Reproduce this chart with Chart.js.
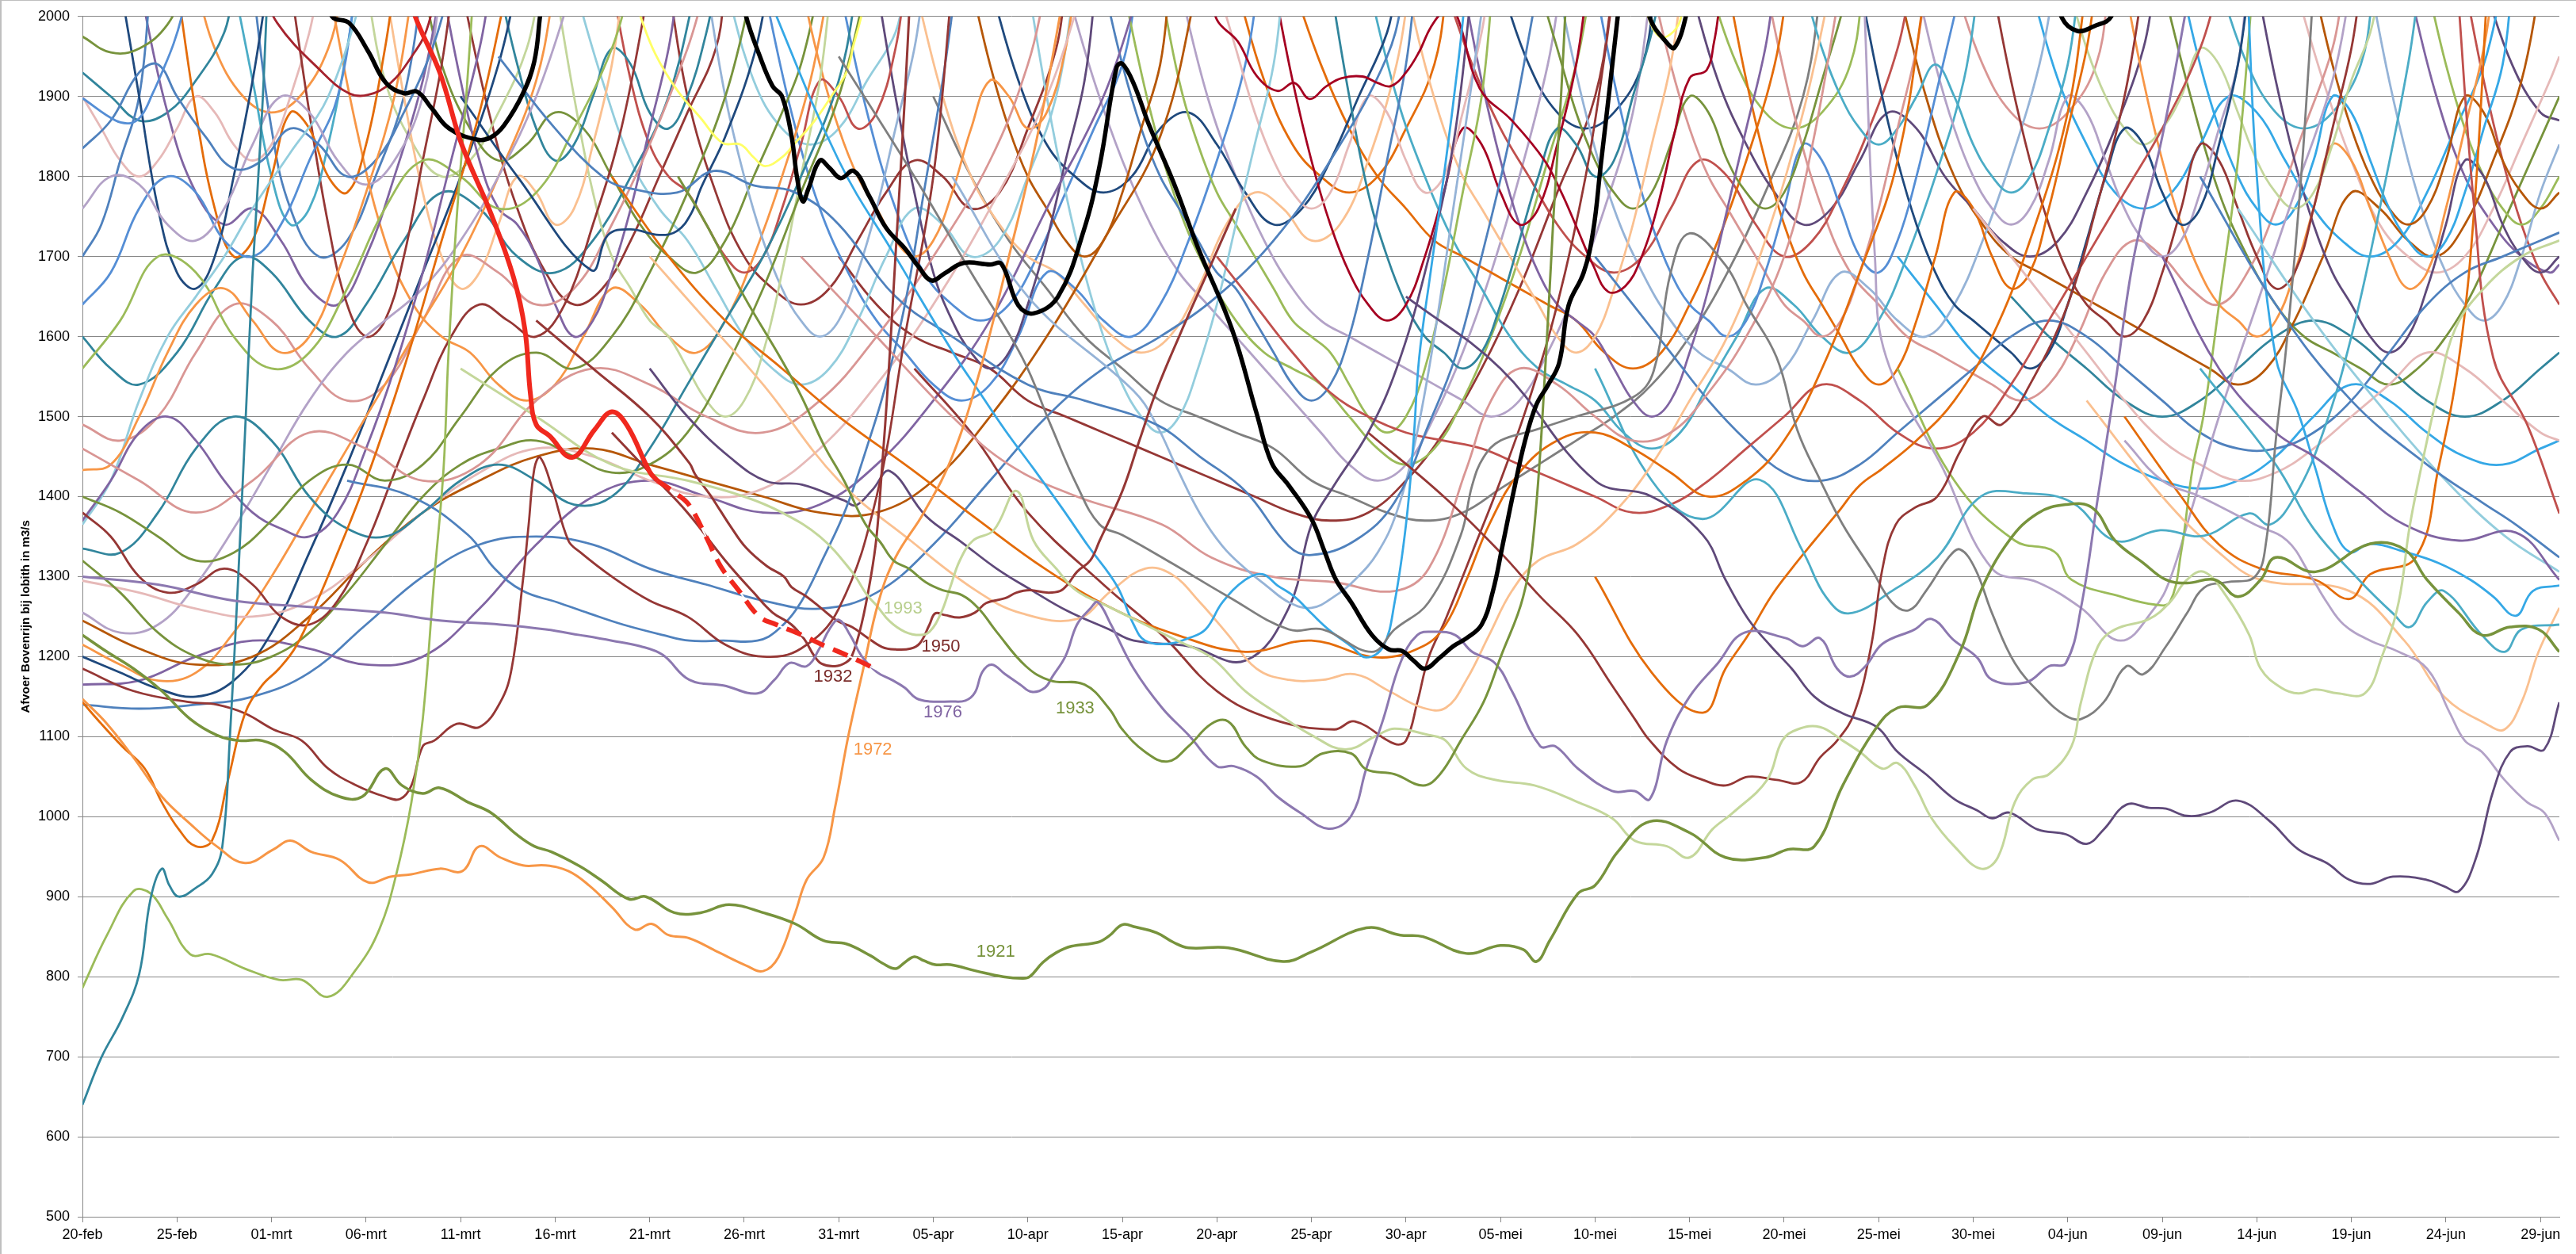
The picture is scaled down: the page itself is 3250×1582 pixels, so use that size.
<!DOCTYPE html>
<html>
<head>
<meta charset="utf-8">
<script src="https://cdn.jsdelivr.net/npm/chart.js@4.4.1/dist/chart.umd.min.js"></script>
<style>
  html, body { margin: 0; padding: 0; background: #fff; }
  canvas { display: block; }
</style>
</head>
<body>
<canvas id="afvoerChart" width="3250" height="1582"></canvas>
<script>
// x = dagnummer vanaf 20-feb (schrikkeljaar), y = afvoer in m3/s
const tickLabels = ["20-feb", "25-feb", "01-mrt", "06-mrt", "11-mrt", "16-mrt", "21-mrt", "26-mrt", "31-mrt",
  "05-apr", "10-apr", "15-apr", "20-apr", "25-apr", "30-apr", "05-mei", "10-mei", "15-mei", "20-mei",
  "25-mei", "30-mei", "04-jun", "09-jun", "14-jun", "19-jun", "24-jun", "29-jun"];

const roodGemeten = [[17.2,2040],[17.6,2000],[18.9,1930],[19.9,1851],[20.4,1820],[21.6,1754],[22.8,1674],[23.4,1609],
  [23.7,1527],[24.0,1490],[24.7,1476],[25.9,1449],[27.1,1484],[28.0,1506],[28.8,1489],[30.0,1431],[30.4,1420]];
const roodVerwacht = [[30.4,1420],[31.5,1402],[32.1,1389],[33.0,1349],[33.75,1313],[34.7,1283],[35.8,1250],
  [36.7,1240],[38.05,1227],[39.2,1214],[40.5,1201],[42.0,1184]];

const zwart = [[12.8,2040],[13.2,2000],[14.1,1992],[15.1,1957],[16.05,1917],[17.0,1904],[17.7,1906],[18.45,1886],
  [19.4,1860],[20.9,1846],[21.6,1849],[22.3,1864],[23.3,1904],[23.9,1944],[24.2,2000],[24.4,2040],[24.5,null],
  [34.8,2040],[35.1,2000],[35.8,1952],[36.5,1913],[37.0,1900],[37.5,1851],[37.8,1798],[38.1,1769],[38.4,1785],
  [39.0,1820],[39.5,1811],[40.1,1798],[40.8,1807],[41.6,1776],[42.5,1736],[43.5,1710],[44.2,1688],[44.9,1670],
  [45.6,1679],[46.6,1692],[48.0,1690],[48.6,1691],[49.5,1639],[50.3,1629],[51.6,1650],[52.95,1732],[53.8,1814],
  [54.7,1937],[55.0,1941],[55.6,1916],[56.4,1865],[57.7,1793],[59.0,1711],[60.8,1609],[62.1,1504],[62.9,1442],
  [63.8,1414],[65.0,1372],[65.7,1331],[66.3,1296],[67.1,1268],[68.2,1227],[69.1,1209],[69.8,1207],[70.4,1195],
  [71.0,1185],[71.8,1199],[72.5,1213],[73.2,1223],[74.0,1240],[74.6,1282],[75.1,1338],[75.7,1407],[76.3,1470],
  [76.9,1515],[77.5,1539],[78.1,1567],[78.6,1639],[79.4,1680],[79.9,1732],[80.3,1814],[80.8,1916],[81.2,2000],
  [81.4,2040],[81.5,null],[82.7,2040],[82.9,1998],[83.8,1967],[84.2,1961],[84.8,2000],[85.0,2040],[85.1,null],
  [104.3,2040],[104.7,1998],[105.5,1982],[106.4,1988],[107.3,2000],[107.6,2040]];

const jaar1921 = [[0,1227],[1.3,1206],[2.7,1185],[4.2,1157],[5.7,1122],[7.1,1102],[8.3,1095],[9.5,1095],[10.7,1081],
  [12.1,1046],[13.6,1025],[14.8,1025],[16.0,1060],[16.9,1039],[18.0,1029],[18.9,1036],[20.4,1018],[21.6,1005],
  [23.0,977],[23.9,963],[24.8,956],[26.3,938],[27.4,921],[28.9,897],[29.8,900],[31.3,880],[32.7,880],[34.2,890],
  [36.0,880],[37.7,866],[39.2,845],[40.4,841],[41.7,826],[42.3,817],[43.0,810],[43.5,818],[44.0,825],[44.5,820],
  [45.1,815],[45.9,815],[47.3,807],[48.7,800],[49.7,798],[50.1,800],[50.8,818],[51.5,830],[52.3,838],[53.7,843],
  [54.3,851],[55.0,865],[55.7,862],[56.8,855],[57.7,843],[58.5,836],[60.6,836],[63.5,819],[65.0,831],[67.9,861],
  [69.7,852],[70.9,850],[73.2,829],[75.0,839],[76.2,834],[76.9,819],[77.6,845],[79.1,904],[80.0,914],[81.2,956],
  [82.9,994],[85.0,980],[86.9,949],[89.0,949],[90.2,959],[91.6,963],[93.1,1039],[94.9,1112],[96.0,1136],[97.6,1140],
  [99.3,1206],[100.4,1282],[101.9,1345],[103.4,1379],[104.9,1390],[106.3,1386],[107.5,1345],[109.0,1317],
  [110.2,1296],[111.3,1292],[112.8,1296],[114.0,1275],[115.2,1296],[116.0,1324],[118.1,1306],[121.0,1341],
  [122.8,1334],[124.0,1296],[125.7,1254],[126.9,1227],[128.4,1237],[129.9,1234],[131,1206]];

const jaar1933 = [[31.5,1800],[33,1740],[35,1650],[36.9,1574],[38.05,1524],[39.2,1465],[40.3,1419],[41.4,1366],
  [42.2,1343],[42.9,1320],[43.7,1310],[44.6,1293],[45.5,1283],[46.5,1277],[47.4,1260],[48.35,1231],[49.9,1188],
  [51.2,1170],[53.0,1165],[54.3,1135],[55.0,1109],[56.2,1081],[57.4,1069],[58.5,1088],[59.7,1116],[60.6,1119],
  [61.5,1088],[62.4,1070],[64.4,1063],[65.6,1079],[67.1,1079],[67.9,1059],[69.4,1053],[70.9,1039],[71.8,1053],
  [72.9,1095],[74.1,1143],[75.0,1199],[76.2,1275],[76.8,1365],[77.4,1574],[77.8,1750],[78.2,1900],[78.5,2040]];

const jaar1976 = [[0,1300],[4,1290],[8,1270],[12,1262],[16,1255],[19,1245],[22.1,1240],[24.5,1234],[26.3,1227],
  [28.0,1220],[29.5,1213],[30.7,1202],[32.1,1171],[33.9,1164],[35.7,1154],[36.6,1171],[37.4,1192],[38.3,1188],
  [39.0,1211],[39.5,1234],[40.0,1246],[40.6,1227],[41.2,1201],[42.0,1181],[42.8,1171],[43.5,1161],[44.1,1148],
  [44.8,1144],[45.9,1144],[46.7,1145],[47.2,1155],[47.6,1181],[48.1,1190],[48.8,1178],[49.6,1165],[50.2,1156],
  [50.9,1161],[51.3,1175],[52.0,1201],[52.6,1240],[53.3,1260],[53.7,1268],[54.4,1240],[55.6,1185],[57.1,1136],
  [58.5,1102],[60.0,1063],[60.9,1063],[62.1,1050],[63.2,1025],[64.4,1005],[65.9,985],[67.1,1001],[67.9,1060],
  [68.8,1122],[69.7,1192],[70.6,1227],[71.5,1231],[72.6,1227],[73.5,1206],[74.7,1192],[75.6,1157],[77.1,1088],
  [77.9,1088],[79.1,1060],[80.9,1032],[82.1,1032],[82.9,1022],[83.8,1095],[85.0,1150],[86.5,1192],[87.9,1230],
  [90.1,1223],[91.0,1213],[91.9,1223],[92.8,1185],[93.5,1175],[94.3,1188],[95.2,1216],[96.9,1234],[97.8,1247],
  [99.0,1220],[100.2,1199],[101.0,1171],[102.8,1168],[104.0,1188],[104.9,1192],[105.7,1261],[106.6,1400],
  [107.5,1539],[108.5,1700],[110,1850],[111.5,2040]];

const jaar1972 = [[0,1147],[1.3,1116],[2.7,1074],[4.2,1025],[5.7,991],[7.1,963],[8.6,942],[10.1,959],[11.0,970],
  [12.1,956],[13.6,946],[15.1,918],[16.3,925],[17.4,928],[18.9,935],[20.1,932],[21.0,963],[22.1,949],[23.3,939],
  [24.5,939],[25.7,932],[26.8,914],[28.0,887],[29.2,859],[30.1,866],[31.0,852],[32.1,848],[33.6,831],[35.1,814],
  [36.0,807],[36.8,824],[37.7,880],[38.3,921],[39.2,949],[39.8,1011],[40.5,1100],[41.3,1185],[42.1,1268],
  [43.0,1324],[44.5,1380],[46,1450],[47.5,1560],[49,1700],[50.5,1850],[52,2040]];

const jaar1993 = [[20,1560],[24,1500],[28,1440],[32,1420],[35,1400],[37,1380],[39,1350],[40.7,1306],[41.5,1277],
  [42.0,1264],[42.7,1244],[43.5,1231],[44.3,1227],[44.8,1231],[45.4,1254],[45.9,1287],[46.4,1320],[47.1,1345],
  [48.2,1358],[49.4,1407],[50.3,1345],[51.5,1310],[52.6,1282],[54.4,1261],[56.2,1240],[57.9,1220],[59.7,1199],
  [61.5,1157],[63.2,1129],[65.0,1102],[66.8,1084],[68.5,1102],[69.4,1110],[71.2,1102],[72.1,1095],[73.2,1060],
  [74.7,1046],[76.8,1039],[79.1,1018],[80.9,998],[82.1,970],[83.8,963],[85.0,949],[86.2,984],[87.3,1005],
  [89.1,1046],[89.9,1095],[90.7,1109],[91.9,1112],[93.1,1095],[94.0,1081],[95.2,1060],[96.0,1067],[96.9,1039],
  [97.8,998],[99.0,963],[100.4,935],[101.3,949],[102.2,1018],[103.1,1046],[104.0,1053],[105.2,1088],[105.7,1143],
  [106.6,1213],[107.5,1234],[109.3,1247],[110.4,1268],[111.3,1296],[112.2,1306],[113.4,1275],[114.6,1227],
  [115.2,1185],[116.3,1161],[117.2,1154],[118.1,1159],[119.3,1154],[120.7,1154],[121.6,1199],[122.5,1268],
  [123.1,1365],[124.0,1470],[124.6,1532],[125.5,1610],[127,1660],[129,1700],[131,1720]];

const jaar1950 = [[24,1620],[27,1560],[30,1500],[32.1,1442],[32.4,1428],[33.2,1402],[33.75,1382],[34.3,1362],
  [35.1,1336],[36.2,1313],[37.1,1300],[37.5,1287],[38.3,1275],[39.1,1260],[39.9,1245],[40.7,1237],[41.5,1224],
  [42.3,1212],[43.0,1209],[43.8,1210],[44.3,1217],[44.8,1240],[45.1,1254],[45.6,1252],[46.4,1249],[47.2,1255],
  [47.8,1267],[48.8,1273],[49.4,1280],[50.1,1283],[51.0,1280],[51.7,1282],[52.1,1290],[52.6,1306],[53.3,1320],
  [53.8,1345],[55.0,1407],[55.9,1470],[56.8,1532],[58,1600],[59.5,1680],[61,1760]];

const jaar1932 = [[28,1480],[30,1430],[32,1380],[34,1320],[35.5,1280],[36.5,1255],[37.5,1240],[38.2,1221],
  [38.7,1201],[39.1,1191],[39.8,1188],[40.4,1193],[40.7,1201],[41.2,1240],[41.7,1300],[42.0,1350],[42.3,1440],
  [42.6,1540],[43.0,1700],[43.5,1900],[43.8,2040]];

const overigeJaren = [
  [[70,1650],[75,1560],[80,1420],[83,1400],[85.7,1352],[86.9,1296],[88.1,1247],[89.3,1213],[90.4,1185],[91.6,1150],
   [93.1,1129],[94.9,1112],[96.0,1081],[97.5,1053],[99.0,1022],[100.2,1008],[101.0,998],[101.9,1005],[103.4,984],
   [104.9,978],[106.0,966],[106.9,984],[108.1,1015],[109.3,1011],[110.2,1010],[111.3,1001],[112.5,1005],[114.0,1020],
   [115.7,994],[117.2,959],[118.7,942],[119.9,921],[121.0,916],[122.2,925],[124.0,921],[124.9,913],[125.7,907],
   [126.6,949],[127.5,1032],[128.4,1081],[129.3,1088],[130.2,1084],[131,1143]],
  [[68,1480],[72,1400],[75,1330],[77.1,1275],[79.1,1227],[80.9,1164],[82.1,1122],[82.9,1095],[84.4,1060],[85.7,1046],
   [86.9,1039],[88.1,1050],[89.6,1046],[90.9,1043],[91.9,1074],[92.8,1095],[93.7,1129],[94.6,1213],[95.2,1310],
   [95.9,1365],[96.9,1386],[98.1,1400],[99.3,1456],[100.5,1500],[101.5,1490],[103,1540],[105,1640],[106.5,1760],[108,1900],[109,2040]],
  [[40,1950],[44,1800],[47,1680],[49.7,1574],[51.2,1490],[52.6,1414],[53.8,1365],[55.0,1352],[57.6,1317],[60.6,1275],
   [63.8,1234],[65.6,1234],[68.2,1206],[69.4,1234],[71.2,1268],[72.9,1352],[73.5,1414],[74.1,1449],[75.0,1470],
   [76.8,1483],[79,1500],[82.0,1524],[83.1,1557],[84,1680],[85.0,1729],[86.9,1689],[88.0,1640],[89.6,1574],
   [90.7,1483],[91.9,1421],[93.1,1365],[94.6,1310],[95.7,1268],[96.6,1258],[97.5,1282],[98.7,1324],[99.3,1334],
   [100.1,1310],[101.0,1254],[102.2,1192],[103.7,1150],[104.9,1126],[105.7,1122],[106.9,1143],[108.1,1188],
   [109.0,1178],[110.2,1213],[111.3,1254],[112.2,1286],[113.4,1293],[114.9,1300],[115.5,1345],[116.0,1470],
   [116.5,1574],[117,1700],[117.5,1850],[118,2040]],
  [[36,2040],[40,1820],[43,1700],[46.2,1574],[47.4,1532],[48.8,1483],[50.3,1435],[51.8,1386],[53.2,1338],[54.7,1289],
   [55.6,1240],[56.2,1220],[57.4,1216],[58.5,1223],[59.4,1234],[60.3,1268],[61.5,1296],[62.4,1303],[63.2,1289],
   [64.1,1275],[65.0,1254],[65.9,1234],[67.1,1213],[67.9,1199],[68.8,1213],[69.4,1268],[70.0,1365],[70.4,1470],
   [70.7,1574],[71.3,1680],[72.0,1800],[72.8,1950],[73.2,2040]],
  [[0,640],[1,699],[2.1,748],[3.0,803],[3.6,897],[4.2,935],[4.6,914],[5.1,900],[6.0,911],[6.85,928],[7.4,963],
   [7.8,1100],[8.2,1280],[8.6,1480],[9.0,1680],[9.5,1880],[9.8,2040]],
  [[0,786],[1.3,852],[2.7,907],[3.6,904],[4.5,873],[5.7,828],[6.8,828],[8.6,810],[10.4,796],[11.6,796],[13.0,775],
   [14.5,810],[15.7,859],[16.6,928],[17.4,1018],[18.0,1122],[18.6,1296],[19.1,1435],[19.35,1574],[19.8,1750],
   [20.3,1900],[20.7,2040]],
  [[0,1143],[1.0,1116],[2.1,1088],[3.3,1060],[4.2,1018],[5.1,984],[6.0,963],[6.85,970],[7.7,1046],[8.6,1129],
   [9.5,1164],[10.4,1185],[11.3,1213],[12.4,1268],[13.5,1330],[15,1420],[17,1560],[19,1720],[21,1880],[22.5,2040]],
  [[0,1185],[2.7,1157],[5.7,1143],[7.1,1140],[8.6,1129],[10.1,1109],[11.6,1095],[13.0,1060],[14.5,1039],[16.0,1025],
   [16.8,1022],[17.4,1039],[18.0,1088],[18.6,1095],[19.8,1116],[21.0,1112],[22.1,1143],[22.7,1185],[23.3,1296],
   [23.6,1365],[23.9,1435],[24.2,1449],[24.8,1414],[25.7,1345],[26.3,1331],[28,1300],[30,1270],[32,1250],[34,1215],
   [36,1200],[38,1210],[40,1260],[42,1400],[43.5,1600],[45,1800],[46,2040]],
  [[59.6,2040],[60.0,1996],[61.1,1969],[62.1,1926],[63.2,1907],[64.1,1917],[64.9,1897],[65.8,1913],[66.6,1923],
   [67.7,1925],[68.5,1917],[69.2,1913],[70.0,1930],[70.7,1956],[71.3,1986],[72.0,2006],[72.6,2006],[73.9,1910],
   [75.6,1870],[77.3,1821],[78.2,1781],[79.0,1738],[79.9,1689],[80.7,1656],[81.6,1663],[82.4,1696],[83.3,1762],
   [84.2,1854],[85.0,1923],[85.9,1933],[86.3,1969],[86.5,1999],[86.7,2040]],
  [[29,2040],[29.5,2001],[30.3,1953],[31.45,1908],[32.7,1873],[33.85,1842],[34.8,1840],[35.5,1824],[36.1,1813],
   [37.0,1824],[37.7,1842],[38.7,1869],[39.6,1900],[40.4,1930],[40.8,1966],[41.2,2001],[41.5,2040],[41.6,null],
   [82.3,2040],[82.8,2000],[83.4,1975],[84.0,1978],[84.5,1995],[84.8,2040]],
  [[9.5,2040],[10.3,1992],[12.7,1930],[14.1,1904],[15.1,1902],[16.3,1917],[17.5,1953],[18.2,1983],[18.8,2040]],
  [[0,1898],[1.75,1870],[2.6,1867],[3.15,1877],[3.7,1903],[4.26,1933],[4.82,1966],[5.24,1999],[5.6,2040]],
  [[22,1950],[25,1860],[27.6,1798],[29.0,1785],[31.45,1780],[33.4,1807],[35.5,1789],[37.7,1780],[40,1740],[43,1650],
   [46,1600],[50,1540],[53,1520],[56.8,1490],[59.1,1450],[61.5,1407],[63.8,1338],[65.0,1327],[67.3,1345],[69.4,1393],
   [71.2,1490],[72.6,1574],[74,1700],[75.5,1850],[77,2040]],
  [[20,1900],[23,1800],[26.9,1683],[27.8,1727],[29.0,1734],[30.5,1727],[31.45,1732],[32.2,1754],[32.7,1785],
   [34,1850],[35.5,1950],[36.3,2040]],
  [[46,1800],[50,1650],[55.6,1532],[56.8,1490],[57.9,1435],[59.1,1379],[60.3,1338],[61.5,1310],[62.6,1289],
   [63.8,1268],[65.0,1261],[66.2,1275],[67.3,1296],[68.5,1330],[69.5,1380],[70.5,1470],[71.5,1600],[72.5,1760],[73.5,1920],[74.2,2040]],
  [[38,1700],[42,1600],[46,1500],[49,1440],[52.6,1400],[57.1,1365],[59.7,1324],[62.9,1300],[66.2,1293],[69.4,1282],
   [71.2,1310],[73.2,1435],[74.5,1520],[76,1560],[78,1540],[80,1500],[82,1470],[84,1480],[86,1530],[88,1600],[90,1700],[91.5,1840],[93,2040]],
  [[28,1800],[31,1700],[34,1620],[37,1560],[40,1500],[43.8,1435],[47.3,1372],[50.9,1310],[54.4,1261],[57.9,1227],
   [61.5,1206],[65.0,1220],[68.5,1199],[70.9,1213],[72.1,1240],[73.2,1296],[74.4,1365],[76,1430],[78,1470],[80,1480],
   [82,1460],[84,1430],[86,1400],[88,1420],[90,1470],[92,1560],[94,1680],[96,1820],[97.5,2040]],
  [[30,1700],[33,1620],[36,1540],[40,1420],[43.8,1345],[47.3,1282],[49.7,1254],[52.6,1247],[54.4,1282],[56.2,1310],
   [57.6,1303],[59.1,1268],[60.6,1227],[62.1,1185],[63.8,1171],[65.6,1171],[67.3,1178],[69.1,1157],[70.9,1136],
   [72.1,1136],[73.2,1171],[74.4,1227],[75.6,1282],[77,1320],[79,1340],[81,1380],[83,1440],[85,1520],[87,1600],[89,1720],[91,1880],[92.5,2040]],
  [[14,1420],[17.4,1400],[20.4,1352],[21.8,1310],[23.3,1282],[25.1,1268],[26.8,1254],[28.6,1240],[30.7,1227],
   [32.1,1220],[33.9,1220],[35.7,1220],[36.8,1234],[38.0,1268],[39.2,1324],[40.4,1386],[41.6,1470],[42.4,1532],
   [43.5,1640],[44.5,1780],[45.5,1920],[46.2,2040]],
  [[30,1560],[32,1500],[34.3,1448],[36.2,1419],[38.05,1415],[40.3,1395],[40.9,1389],[41.8,1409],[42.7,1432],
   [44.6,1376],[46.5,1343],[48.35,1310],[50.2,1283],[52.1,1257],[54.3,1234],[55.6,1220],[58.5,1213],[61.5,1195],
   [63.8,1261],[65.0,1365],[66.2,1414],[68,1480],[69.5,1560],[71,1680],[72.5,1840],[73.5,2040]],
  [[44,1560],[47,1480],[50,1380],[54,1290],[57.1,1227],[60.0,1157],[62.9,1122],[66.2,1109],[67.3,1119],[69.4,1091],
   [70.0,1095],[70.6,1143],[71.2,1199],[72.1,1247],[73.5,1330],[75,1420],[76.5,1520],[78,1640],[79.5,1800],[80.5,1950],[81,2040]],
  [[108,1470],[110,1420],[112,1400],[114.9,1365],[116.6,1345],[117.8,1303],[118.7,1268],[119.6,1240],[121.0,1220],
   [122.5,1206],[124.0,1185],[125.2,1130],[126.0,1095],[126.9,1081],[128.1,1046],[129.3,1018],[130.2,1005],[131.0,970]],
  [[110,1700],[113,1560],[116,1480],[118.1,1449],[120.4,1407],[122.8,1365],[125.7,1345],[128.7,1355],[131,1296]],
  [[112,1800],[116,1640],[120,1520],[124,1440],[126.9,1393],[128.7,1365],[131,1324]],
  [[114,1760],[118,1620],[122,1500],[125,1420],[128.1,1351],[131,1306]],
  [[114.5,2040],[115,1800],[116.0,1574],[117.2,1504],[118.1,1435],[119.0,1365],[119.9,1331],[121.0,1341],
   [122.8,1331],[124.6,1317],[126.3,1296],[127.5,1275],[128.7,1251],[129.6,1282],[131,1289]],
  [[112,1560],[116,1440],[118,1360],[120.4,1296],[122.2,1254],[123.1,1237],[124.0,1268],[124.9,1282],[126.9,1227],
   [128.1,1206],[129.0,1234],[131,1240]],
  [[125.6,2040],[126.5,1760],[127.5,1574],[129.3,1490],[131,1379]],
  [[80,1560],[83,1420],[85.7,1372],[88.7,1421],[91.0,1331],[92.2,1275],[93.4,1254],[95.7,1282],[98.1,1324],[100.4,1400],
   [102.8,1404],[105.2,1393],[107.5,1345],[109.9,1358],[112.2,1351],[114.6,1379],[115.7,1365],[117,1400],[118.5,1480],[120,1600],[121.5,1760],[123,1940],[123.6,2040]],
  [[80,1300],[83,1180],[85.7,1130],[86.9,1185],[88.1,1227],[89.3,1275],[90.4,1310],[91.6,1345],[92.8,1379],
   [94.0,1414],[95.2,1435],[97,1470],[99,1520],[101,1600],[103,1720],[105,1880],[106,2040]],
  [[108,1500],[111,1400],[113,1340],[115.2,1310],[118.1,1296],[119.9,1272],[121.0,1303],[123.4,1324],[124.6,1435],
   [125.7,1574],[126.5,1760],[127.2,2040]],
  [[106,1520],[110,1400],[113,1330],[115.2,1296],[119.9,1282],[122.8,1220],[124.9,1150],[127.2,1115],[128.1,1109],
   [129.0,1143],[129.9,1206],[131,1261]],
  [[96,1560],[99,1420],[102.2,1345],[104.3,1331],[105.2,1296],[107.8,1275],[109.6,1265],[110.4,1268],[111.0,1331],
   [111.6,1435],[112.2,1504],[113,1640],[114,1820],[114.8,2040]],
  [[94.2,2040],[94.8,1700],[95.4,1574],[98.4,1435],[101.0,1310],[103.4,1293],[105.7,1261],[107.8,1220],[109.6,1261],
   [110.4,1296],[111.5,1380],[113,1500],[115,1640],[117,1780],[119,1920],[120,2040]],
  [[60,1700],[62,1640],[64,1580],[66,1530],[68,1500],[70,1480],[72,1470],[74,1460],[76,1440],[78,1420],[80,1400],
   [82,1380],[84,1390],[86,1420],[88,1460],[90,1500],[92,1540],[94,1520],[96,1480],[98,1460],[100,1480],[102,1540],
   [104,1620],[106,1700],[108,1780],[110,1860],[112,1960],[113,2040]],
  [[80,1700],[82,1640],[84,1580],[86,1520],[88,1470],[90,1430],[92,1420],[94,1440],[96,1480],[98,1520],[100,1560],
   [102,1600],[104,1620],[106,1600],[108,1560],[110,1520],[112,1480],[114,1460],[116,1460],[118,1480],[120,1520],
   [122,1580],[124,1640],[126,1680],[128,1700],[130,1720],[131,1730]],
  [[100,1760],[102,1700],[104,1640],[106,1580],[108,1520],[110,1470],[112,1440],[114,1420],[116,1430],[118,1460],
   [120,1500],[122,1540],[124,1580],[126,1560],[128,1520],[130,1480],[131,1470]],
  // linkerdeel, onder
  [[0,1460],[3,1420],[6,1380],[9,1420],[12,1480],[15,1460],[18,1420],[21,1440],[24,1520],[27,1560],[30,1540],
   [33,1500],[36,1480],[39,1520],[42,1600],[45,1700],[48,1820],[50,1940],[51,2040]],
  [[0,1433],[1.5,1440],[3,1500],[4.5,1580],[6,1640],[7.5,1660],[9,1620],[10.5,1580],[12,1600],[13.5,1680],[15,1780],[16.5,1900],[17.5,2040]],
  [[0,1400],[2,1380],[4,1350],[6,1320],[8,1330],[10,1370],[12,1420],[14,1440],[16,1420],[18,1440],[20,1500],
   [22,1560],[24,1580],[26,1560],[28,1600],[30,1680],[32,1780],[34,1900],[35.5,2040]],
  [[0,1380],[1.5,1350],[3,1300],[4.5,1280],[6,1290],[7.5,1310],[9,1290],[10.5,1250],[12,1240],[13.5,1270],[15,1340],
   [16.5,1430],[18,1520],[19.5,1600],[21,1640],[22.5,1620],[24,1600],[25.5,1640],[27,1740],[28.5,1860],[30,2040]],
  [[0,1370],[1.5,1420],[3,1480],[4.5,1500],[6,1470],[7.5,1420],[9,1380],[10.5,1360],[12,1350],[13.5,1380],[15,1460],
   [16.5,1560],[18,1680],[19.5,1820],[21,1960],[21.6,2040]],
  [[0,1365],[1.5,1420],[3,1520],[4.5,1600],[6,1650],[7.5,1700],[9,1760],[11,1830],[13,1900],[15,2040]],
  [[0,1335],[2,1330],[4,1380],[6,1460],[8,1500],[10,1470],[12,1400],[14,1360],[16,1350],[18,1380],[20,1420],
   [22,1440],[24,1420],[26,1390],[28,1400],[30,1460],[32,1540],[34,1620],[36,1700],[38,1800],[40,1920],[41,2040]],
  [[0,1320],[2,1280],[4,1230],[6,1200],[8,1190],[10,1200],[12,1230],[14,1280],[16,1340],[18,1400],[20,1440],
   [22,1460],[24,1470],[26,1450],[28,1430],[30,1440],[32,1480],[34,1560],[36,1660],[38,1780],[40,1900],[41.5,2040]],
  [[0,1295],[3,1280],[6,1260],[9,1250],[12,1270],[15,1320],[18,1380],[21,1430],[24,1460],[27,1450],[30,1420],
   [33,1400],[36,1410],[39,1460],[42,1540],[45,1640],[48,1760],[51,1900],[53,2040]],
  [[0,1255],[2,1230],[4,1240],[6,1290],[8,1360],[10,1440],[12,1520],[14,1580],[16,1620],[18,1660],[20,1720],[22,1800],[24,1900],[26,2040]],
  [[0,1245],[3,1210],[6,1190],[9,1200],[12,1250],[15,1320],[18,1380],[21,1420],[24,1450],[27,1460],[30,1440],
   [33,1420],[36,1400],[39,1380],[42,1380],[45,1420],[48,1500],[51,1600],[54,1720],[57,1850],[59,2040]],
  [[0,1215],[2,1190],[4,1170],[6,1180],[8,1230],[10,1300],[12,1380],[14,1460],[16,1540],[18,1620],[20,1700],[22,1800],[24,1920],[25,2040]],
  [[0,1200],[2,1180],[4,1160],[6,1150],[8,1170],[10,1230],[12,1330],[14,1440],[16,1560],[18,1680],[20,1800],[22,1940],[23,2040]],
  [[0,1165],[3,1170],[6,1200],[9,1220],[12,1210],[15,1190],[18,1200],[21,1260],[24,1340],[27,1400],[30,1420],
   [33,1400],[36,1380],[39,1390],[42,1440],[45,1520],[48,1620],[51,1760],[54,1900],[56,2040]],
  [[0,1140],[3,1135],[6,1140],[9,1150],[12,1180],[15,1240],[18,1300],[21,1340],[24,1350],[27,1340],[30,1310],
   [33,1290],[36,1270],[39,1260],[42,1280],[45,1340],[48,1420],[51,1500],[54,1560],[57,1600],[60,1650],[63,1720],[66,1820],[69,1950],[70,2040]],
  // dichte bundel boven (geschat)
  [[0,1975],[1.5,1955],[3,1960],[4.5,1990],[5.5,2040]],
  [[0,1835],[1.5,1870],[3,1930],[4,1940],[5,1900],[6.5,1850],[8,1810],[9.5,1820],[11,1860],[12.5,1840],[14,1800],[15.5,1820],[17,1880],[18.5,1960],[19.5,2040]],
  [[0,1760],[1.5,1800],[3,1790],[4.5,1740],[6,1720],[7.5,1760],[9,1840],[10.5,1900],[12,1880],[13.5,1820],[15,1790],[16.5,1820],[18,1900],[19,2040]],
  [[0,1640],[1.5,1680],[3,1760],[4.5,1800],[6,1780],[7.5,1720],[9,1700],[10.5,1740],[12,1820],[13.5,1900],[14.5,2040]],
  [[0,1560],[2,1620],[4,1700],[6,1680],[8,1600],[10,1560],[12,1580],[14,1660],[16,1760],[18,1820],[20,1800],[22,1760],[24,1780],[26,1860],[28,1960],[29,2040]],
  [[0,1490],[2,1470],[4,1500],[6,1580],[8,1640],[10,1620],[12,1560],[14,1520],[16,1540],[18,1620],[20,1700],[22,1680],[24,1640],[26,1660],[28,1740],[30,1840],[32,1960],[33,2040]],
  [[2,2040],[3,1900],[4,1760],[5,1680],[6,1660],[7,1700],[8,1800],[9,1920],[9.8,2040]],
  [[5,2040],[6,1880],[7,1760],[8,1700],[9,1720],[10,1800],[11,1880],[12,1860],[13,1800],[14,1780],[15,1840],[16,1960],[16.5,2040]],
  [[8,2040],[9,1920],[10,1800],[11,1740],[12,1760],[13,1840],[14,1960],[14.5,2040]],
  [[11,2040],[12,1880],[13,1740],[14,1640],[15,1600],[16,1620],[17,1700],[18,1820],[19,1940],[19.6,2040]],
  [[16,2040],[17,1900],[18,1780],[19,1700],[20,1660],[21,1680],[22,1740],[23,1800],[24,1780],[25,1740],[26,1760],[27,1840],[28,1940],[28.6,2040]],
  [[19,2040],[20,1920],[21,1820],[22,1760],[23,1740],[24,1700],[25,1640],[26,1600],[27,1620],[28,1680],[29,1760],[30,1860],[31,1960],[31.5,2040]],
  [[22,2040],[23,1940],[24,1860],[25,1820],[26,1840],[27,1900],[28,1960],[29,1940],[30,1880],[31,1860],[32,1900],[33,1980],[33.5,2040]],
  [[25,2040],[26,1900],[27,1780],[28,1700],[29,1660],[30,1620],[31,1600],[32,1560],[33,1520],[34,1500],[35,1520],[36,1580],[37,1680],[38,1800],[39,1920],[39.6,2040]],
  [[28,2040],[29,1920],[30,1840],[31,1800],[32,1780],[33,1740],[34,1700],[35,1680],[36,1700],[37,1760],[38,1840],[39,1920],[40,1900],[41,1860],[42,1880],[43,1960],[43.5,2040]],
  [[33,2040],[34,1900],[35,1800],[36,1720],[37,1660],[38,1620],[39,1600],[40,1620],[41,1680],[42,1760],[43,1860],[44,1960],[44.5,2040]],
  [[38,2040],[39,1940],[40,1860],[41,1800],[42,1760],[43,1720],[44,1700],[45,1720],[46,1780],[47,1860],[48,1920],[49,1900],[50,1860],[51,1880],[52,1960],[52.5,2040]],
  [[42,2040],[43,1900],[44,1780],[45,1680],[46,1620],[47,1580],[48,1560],[49,1580],[50,1640],[51,1720],[52,1820],[53,1920],[53.6,2040]],
  [[47,2040],[48,1940],[49,1860],[50,1800],[51,1760],[52,1720],[53,1700],[54,1720],[55,1780],[56,1860],[57,1940],[57.5,2040]],
  [[50,2040],[51,1900],[52,1780],[53,1680],[54,1600],[55,1540],[56,1500],[57,1480],[58,1500],[59,1560],[60,1640],[61,1740],[62,1840],[63,1940],[63.5,2040]],
  [[54,2040],[55,1940],[56,1860],[57,1800],[58,1760],[59,1720],[60,1680],[61,1660],[62,1620],[63,1580],[64,1540],[65,1520],[66,1540],[67,1600],[68,1700],[69,1820],[70,1940],[70.5,2040]],
  [[57,2040],[58,1920],[59,1840],[60,1780],[61,1740],[62,1700],[63,1660],[64,1620],[65,1600],[66,1580],[67,1540],[68,1500],[69,1480],[70,1500],[71,1560],[72,1660],[73,1780],[74,1900],[74.6,2040]],
  [[60,2040],[61,1960],[62,1880],[63,1820],[64,1780],[65,1760],[66,1780],[67,1840],[68,1900],[69,1880],[70,1820],[71,1780],[72,1800],[73,1880],[74,1980],[74.4,2040]],
  [[63,2040],[64,1920],[65,1820],[66,1740],[67,1680],[68,1640],[69,1620],[70,1640],[71,1700],[72,1780],[73,1860],[74,1840],[75,1780],[76,1740],[77,1760],[78,1840],[79,1940],[79.6,2040]],
  [[66,2040],[67,1900],[68,1780],[69,1700],[70,1640],[71,1600],[72,1580],[73,1560],[74,1580],[75,1640],[76,1720],[77,1800],[78,1860],[79,1840],[80,1800],[81,1820],[82,1900],[83,1980],[83.5,2040]],
  [[70,2040],[71,1940],[72,1860],[73,1800],[74,1760],[75,1720],[76,1680],[77,1640],[78,1600],[79,1580],[80,1600],[81,1660],[82,1740],[83,1840],[84,1940],[84.6,2040]],
  [[73,2040],[74,1920],[75,1820],[76,1740],[77,1680],[78,1640],[79,1620],[80,1600],[81,1560],[82,1520],[83,1500],[84,1520],[85,1580],[86,1660],[87,1760],[88,1860],[89,1960],[89.5,2040]],
  [[77,2040],[78,1960],[79,1880],[80,1820],[81,1780],[82,1760],[83,1780],[84,1840],[85,1900],[86,1880],[87,1820],[88,1780],[89,1760],[90,1780],[91,1840],[92,1920],[93,2000],[93.4,2040]],
  [[80,2040],[81,1920],[82,1820],[83,1740],[84,1680],[85,1640],[86,1620],[87,1600],[88,1620],[89,1680],[90,1760],[91,1840],[92,1820],[93,1760],[94,1700],[95,1680],[96,1720],[97,1800],[98,1900],[99,2000],[99.4,2040]],
  [[83,2040],[84,1940],[85,1860],[86,1800],[87,1760],[88,1720],[89,1680],[90,1640],[91,1620],[92,1600],[93,1620],[94,1680],[95,1760],[96,1860],[97,1960],[97.5,2040]],
  [[87,2040],[88,1920],[89,1820],[90,1740],[91,1680],[92,1640],[93,1600],[94,1560],[95,1540],[96,1560],[97,1620],[98,1700],[99,1780],[100,1760],[101,1700],[102,1660],[103,1680],[104,1760],[105,1860],[106,1960],[106.5,2040]],
  [[91,2040],[92,1960],[93,1900],[94,1860],[95,1840],[96,1860],[97,1900],[98,1940],[99,1900],[100,1840],[101,1800],[102,1780],[103,1800],[104,1860],[105,1940],[105.6,2040]],
  [[94,2040],[95,1920],[96,1820],[97,1740],[98,1680],[99,1640],[100,1620],[101,1600],[102,1580],[103,1560],[104,1580],[105,1640],[106,1720],[107,1800],[108,1860],[109,1840],[110,1780],[111,1740],[112,1760],[113,1840],[114,1940],[114.6,2040]],
  [[97,2040],[98,1940],[99,1860],[100,1800],[101,1760],[102,1740],[103,1760],[104,1820],[105,1900],[106,1880],[107,1820],[108,1760],[109,1720],[110,1700],[111,1720],[112,1780],[113,1860],[114,1940],[114.5,2040]],
  [[101,2040],[102,1920],[103,1820],[104,1740],[105,1680],[106,1640],[107,1620],[108,1600],[109,1620],[110,1680],[111,1760],[112,1840],[113,1820],[114,1760],[115,1700],[116,1660],[117,1680],[118,1760],[119,1860],[120,1960],[120.5,2040]],
  [[105,2040],[106,1960],[107,1900],[108,1860],[109,1840],[110,1860],[111,1900],[112,1960],[113,1940],[114,1880],[115,1820],[116,1780],[117,1760],[118,1780],[119,1840],[120,1920],[121,1980],[121.5,2040]],
  [[108,2040],[109,1920],[110,1820],[111,1740],[112,1680],[113,1640],[114,1620],[115,1600],[116,1620],[117,1680],[118,1760],[119,1840],[120,1820],[121,1760],[122,1700],[123,1660],[124,1680],[125,1760],[126,1860],[127,1960],[127.5,2040]],
  [[111,2040],[112,1940],[113,1860],[114,1800],[115,1760],[116,1740],[117,1760],[118,1820],[119,1900],[120,1880],[121,1820],[122,1760],[123,1720],[124,1700],[125,1720],[126,1780],[127,1860],[128,1940],[128.5,2040]],
  [[115,2040],[116,1920],[117,1820],[118,1740],[119,1680],[120,1640],[121,1600],[122,1580],[123,1600],[124,1660],[125,1740],[126,1820],[127,1800],[128,1740],[129,1700],[130,1680],[131,1700]],
  [[118,2040],[119,1940],[120,1860],[121,1800],[122,1760],[123,1740],[124,1760],[125,1820],[126,1900],[127,1880],[128,1820],[129,1780],[130,1760],[131,1780]],
  [[121,2040],[122,1920],[123,1820],[124,1740],[125,1680],[126,1640],[127,1620],[128,1640],[129,1700],[130,1780],[131,1840]],
  [[124,2040],[125,1940],[126,1860],[127,1800],[128,1760],[129,1740],[130,1760],[131,1800]],
  [[126,2040],[127,1920],[128,1820],[129,1740],[130,1680],[131,1640]],
  [[0,1700],[1,1740],[2,1820],[3,1900],[3.6,2040]],
  [[0,1900],[1,1860],[2,1820],[3,1800],[4,1820],[5,1860],[6,1900],[7,1880],[8,1840],[9,1820],[10,1840],[11,1900],[12,1980],[12.5,2040]],
  [[0,1600],[1.5,1560],[3,1540],[5,1580],[7,1660],[8.5,1700],[10,1680],[12,1620],[13.5,1600],[15,1640],[17,1720],[19,1780],[21,1760],[23,1700],[25,1680],[27,1720],[29,1800],[31,1900],[32.5,2040]],
  [[3,2040],[4.5,1880],[6,1780],[7.5,1740],[9,1760],[10.5,1720],[12,1660],[13.5,1640],[15,1700],[16.5,1800],[18,1920],[19,2040]],
  [[13,2040],[14.5,1860],[16,1720],[17.5,1640],[19,1600],[20.5,1580],[22,1540],[23.5,1520],[25,1540],[26.5,1600],[28,1660],[29.5,1640],[31,1600],[32.5,1580],[34,1620],[35.5,1700],[37,1800],[38.5,1920],[39.5,2040]],
  [[18,2040],[19,1940],[20.5,1860],[22,1820],[23.5,1840],[25,1880],[26.5,1860],[28,1800],[29.5,1740],[31,1700],[32.5,1680],[34,1720],[35.5,1800],[37,1880],[38,1940],[39,2040]],
  [[26,2040],[27.5,1920],[29,1820],[30.5,1760],[32,1720],[33.5,1660],[35,1600],[36.5,1560],[38,1540],[39.5,1560],[41,1620],[42.5,1700],[44,1760],[45.5,1740],[47,1700],[48.5,1720],[50,1800],[51.5,1900],[52.5,2040]],
  [[31,2040],[32,1900],[33.5,1780],[35,1700],[36.5,1660],[38,1640],[39.5,1660],[41,1720],[42.5,1780],[44,1820],[45.5,1800],[47,1760],[48.5,1780],[50,1860],[51.5,1960],[52,2040]],
  [[36,2040],[37.5,1880],[39,1760],[40.5,1680],[42,1620],[43.5,1580],[45,1540],[46.5,1520],[48,1540],[49.5,1600],[51,1680],[52.5,1660],[54,1620],[55.5,1600],[57,1640],[58.5,1720],[60,1820],[61.5,1940],[62.2,2040]],
  [[44,2040],[45.5,1900],[47,1800],[48.5,1740],[50,1700],[51.5,1680],[53,1640],[54.5,1600],[56,1580],[57.5,1600],[59,1660],[60.5,1740],[62,1780],[63.5,1760],[65,1720],[66.5,1740],[68,1820],[69.5,1940],[70.2,2040]],
  [[48,2040],[49.5,1920],[51,1840],[52.5,1800],[54,1780],[55.5,1800],[57,1860],[58.5,1880],[60,1840],[61.5,1780],[63,1740],[64.5,1760],[66,1820],[67.5,1900],[69,1980],[69.5,2040]],
  [[55,2040],[56.5,1880],[58,1760],[59.5,1680],[61,1620],[62.5,1580],[64,1560],[65.5,1540],[67,1500],[68.5,1460],[70,1440],[71.5,1460],[73,1520],[74.5,1600],[76,1700],[77.5,1820],[79,1940],[79.8,2040]],
  [[58,2040],[59.5,1900],[61,1800],[62.5,1720],[64,1660],[65.5,1620],[67,1600],[68.5,1580],[70,1560],[71.5,1540],[73,1520],[74.5,1500],[76,1520],[77.5,1580],[79,1660],[80.5,1760],[82,1880],[83,2040]],
  [[64,2040],[65.5,1940],[67,1860],[68.5,1800],[70,1760],[71.5,1720],[73,1700],[74.5,1680],[76,1660],[77.5,1640],[79,1620],[80.5,1580],[82,1560],[83.5,1580],[85,1640],[86.5,1720],[88,1820],[89.5,1940],[90.2,2040]],
  [[68,2040],[69.5,1900],[71,1800],[72.5,1720],[74,1660],[75.5,1600],[77,1560],[78.5,1540],[80,1520],[81.5,1480],[83,1460],[84.5,1480],[86,1540],[87.5,1600],[89,1660],[90.5,1640],[92,1600],[93.5,1580],[95,1620],[96.5,1700],[98,1800],[99.5,1920],[100.3,2040]],
  [[72,2040],[73.5,1940],[75,1860],[76.5,1800],[78,1740],[79.5,1700],[81,1680],[82.5,1700],[84,1760],[85.5,1820],[87,1800],[88.5,1740],[90,1700],[91.5,1720],[93,1780],[94.5,1860],[96,1960],[96.7,2040]],
  [[78,2040],[79.5,1880],[81,1760],[82.5,1680],[84,1620],[85.5,1580],[87,1560],[88.5,1540],[90,1560],[91.5,1620],[93,1680],[94.5,1660],[96,1620],[97.5,1600],[99,1640],[100.5,1720],[102,1820],[103.5,1940],[104.3,2040]],
  [[85,2040],[86.5,1920],[88,1840],[89.5,1780],[91,1740],[92.5,1760],[94,1820],[95.5,1880],[97,1860],[98.5,1800],[100,1760],[101.5,1720],[103,1700],[104.5,1720],[106,1780],[107.5,1860],[109,1960],[109.6,2040]],
  [[89,2040],[90.5,1880],[92,1760],[93.5,1680],[95,1640],[96.5,1600],[98,1580],[99.5,1560],[101,1540],[102.5,1520],[104,1540],[105.5,1600],[107,1680],[108.5,1720],[110,1700],[111.5,1660],[113,1640],[114.5,1680],[116,1760],[117.5,1860],[119,1960],[119.6,2040]],
  [[96,2040],[97.5,1900],[99,1800],[100.5,1740],[102,1700],[103.5,1680],[105,1660],[106.5,1640],[108,1620],[109.5,1600],[111,1580],[112.5,1560],[114,1540],[115.5,1560],[117,1620],[118.5,1700],[120,1780],[121.5,1760],[123,1720],[124.5,1700],[126,1740],[127.5,1820],[129,1920],[130,2040]],
  [[103,2040],[104.5,1920],[106,1840],[107.5,1780],[109,1760],[110.5,1780],[112,1840],[113.5,1900],[115,1880],[116.5,1820],[118,1760],[119.5,1720],[121,1700],[122.5,1720],[124,1780],[125.5,1860],[127,1940],[128,2040]],
  [[110,2040],[111.5,1900],[113,1780],[114.5,1700],[116,1640],[117.5,1600],[119,1580],[120.5,1560],[122,1540],[123.5,1560],[125,1600],[126.5,1660],[128,1740],[129.5,1820],[131,1900]],
  [[117,2040],[118.5,1920],[120,1820],[121.5,1740],[123,1700],[124.5,1680],[126,1700],[127.5,1760],[129,1840],[130.5,1920],[131,1950]],
  [[123,2040],[124.5,1900],[126,1800],[127.5,1740],[129,1700],[130.5,1680],[131,1690]],
  [[0,1930],[1.5,1900],[3,1870],[4.5,1880],[6,1920],[7.5,1980],[8,2040]],
  [[6,2040],[7,1960],[8.5,1900],[10,1880],[11.5,1900],[13,1960],[13.8,2040]],
  [[9,2040],[10,1860],[11,1760],[12.5,1700],[14,1720],[15.5,1800],[17,1900],[18,2040]],
  [[15,2040],[16,1920],[17.5,1840],[19,1800],[20.5,1820],[22,1880],[23.5,1960],[24.2,2040]],
  [[20,2040],[21.5,1880],[23,1760],[24.5,1680],[26,1640],[27.5,1660],[29,1720],[30.5,1800],[32,1880],[33.5,1960],[34,2040]],
  [[34,2040],[35.5,1920],[37,1860],[38.5,1840],[40,1860],[41.5,1920],[43,1980],[43.5,2040]],
  [[40,2040],[41.5,1880],[43,1760],[44.5,1680],[46,1640],[47.5,1620],[49,1640],[50.5,1700],[52,1780],[53.5,1860],[55,1940],[55.8,2040]],
  [[52,2040],[53.5,1920],[55,1820],[56.5,1740],[58,1680],[59.5,1640],[61,1600],[62.5,1560],[64,1520],[65.5,1480],[67,1440],[68.5,1420],[70,1440],[71.5,1500],[73,1580],[74.5,1680],[76,1800],[77.5,1940],[78.2,2040]],
  [[61,2040],[62.5,1920],[64,1840],[65.5,1800],[67,1780],[68.5,1800],[70,1860],[71.5,1940],[72.2,2040]],
  [[75,2040],[76.5,1940],[78,1880],[79.5,1860],[81,1880],[82.5,1940],[83.2,2040]],
  [[86,2040],[87.5,1940],[89,1880],[90.5,1860],[92,1880],[93.5,1940],[94.2,2040]],
  [[99,2040],[100.5,1940],[102,1880],[103.5,1860],[105,1880],[106.5,1940],[107.2,2040]],
  [[113,2040],[114.5,1940],[116,1880],[117.5,1860],[119,1880],[120.5,1940],[121.2,2040]],
  [[127,2040],[128.5,1940],[130,1880],[131,1870]],
  [[40,1700],[42,1640],[44,1600],[46,1580],[48,1560],[50,1520],[52,1500],[54,1480],[56,1460],[58,1440],[60,1420],[62,1400],[64,1380],[66,1370],[68,1380],[70,1420],[72,1480],[74,1560],[76,1660],[78,1780],[80,1900],[81,2040]],
  [[45,1900],[47,1800],[49,1720],[51,1660],[53,1600],[55,1560],[57,1520],[59,1500],[61,1480],[63,1460],[65,1420],[67,1400],[69,1380],[71,1370],[73,1380],[75,1410],[77,1440],[79,1470],[81,1500],[83,1540],[85,1600],[87,1680],[89,1780],[91,1900],[92,2040]],
  [[96,1700],[98,1640],[100,1580],[102,1540],[104,1500],[106,1470],[108,1440],[110,1420],[112,1410],[114,1420],[116,1450],[118,1500],[120,1540],[122,1520],[124,1480],[126,1450],[128,1440],[130,1460],[131,1470]],
  [[102,1650],[104,1600],[106,1560],[108,1520],[110,1500],[112,1520],[114,1560],[116,1600],[118,1620],[120,1600],[122,1560],[124,1520],[126,1500],[128,1520],[130,1560],[131,1580]]
];

const palet = ["#5F497A", "#953735", "#7F7F7F", "#35A8E6", "#31859C", "#9BBB59", "#E46C0A", "#953735",
  "#A50021", "#FFFF66", "#A5232E", "#558ED5", "#4F81BD", "#1F497D", "#95B3D7", "#D99694", "#E46C0A", "#FAC090",
  "#4F81BD", "#5F497A", "#953735", "#B3A2C7", "#8064A2", "#4F81BD", "#93CDDD", "#35A8E6", "#4BACC6", "#C0504D",
  "#4BACC6", "#E46C0A", "#E46C0A", "#FAC090", "#9BBB59", "#B3A2C7", "#C0504D", "#4F81BD", "#E6B9B8",
  "#D99694", "#F79646", "#77933C", "#953735", "#8064A2", "#93CDDD", "#31859C", "#77933C", "#E6B9B8", "#B3A2C7",
  "#B65708", "#F79646", "#1F497D", "#8064A2", "#4F81BD",
  "#77933C", "#4F81BD", "#B3A2C7", "#558ED5", "#9BBB59", "#D99694", "#1F497D", "#E46C0A", "#4BACC6", "#953735",
  "#FAC090", "#8064A2", "#31859C", "#C3D69B", "#C0504D", "#95B3D7", "#F79646", "#5F497A", "#B65708", "#93CDDD",
  "#4F81BD", "#9BBB59", "#E6B9B8", "#A50021", "#31859C", "#FAC090", "#8064A2", "#77933C", "#558ED5", "#D99694",
  "#E46C0A", "#4BACC6", "#1F497D", "#B3A2C7", "#953735", "#C3D69B", "#F79646", "#35A8E6", "#5F497A", "#B65708",
  "#95B3D7", "#9BBB59", "#C0504D", "#4F81BD", "#E6B9B8", "#31859C", "#8064A2", "#F79646", "#77933C", "#93CDDD",
  "#953735", "#558ED5", "#FAC090", "#1F497D", "#9BBB59", "#B3A2C7", "#E46C0A", "#4BACC6", "#C0504D", "#95B3D7",
  "#5F497A", "#D99694", "#B65708", "#35A8E6", "#77933C", "#E6B9B8", "#8064A2", "#31859C", "#F79646", "#4F81BD",
  "#C3D69B", "#953735", "#93CDDD", "#558ED5", "#B3A2C7", "#E46C0A", "#1F497D", "#9BBB59", "#D99694", "#4BACC6"];

const jaartallen = [
  { text: "1921", day: 48.3, value: 831, color: "#77933C" },
  { text: "1933", day: 52.5, value: 1135, color: "#77933C" },
  { text: "1976", day: 45.5, value: 1130, color: "#8064A2" },
  { text: "1972", day: 41.8, value: 1084, color: "#F79646" },
  { text: "1993", day: 43.4, value: 1260, color: "#B8CF8E" },
  { text: "1950", day: 45.4, value: 1212, color: "#7B2C2A" },
  { text: "1932", day: 39.7, value: 1175, color: "#7B2C2A" }
];

function toPoints(arr) {
  return arr.map(p => ({ x: p[0], y: p[1] }));
}

function lijn(data, color, width, order, extra) {
  return Object.assign({
    data: toPoints(data),
    borderColor: color,
    borderWidth: width,
    pointRadius: 0,
    tension: 0.4,
    fill: false,
    spanGaps: false,
    clip: 0,
    order: order
  }, extra || {});
}

const datasets = [];
datasets.push(lijn(roodGemeten, "#F0281E", 6, 0));
datasets.push(lijn(roodVerwacht, "#F0281E", 6, 0, { borderDash: [20, 12] }));
datasets.push(lijn(roodVerwacht, "#FFFFFF", 2, 1));
datasets.push(lijn(zwart, "#000000", 5.5, 0));
datasets.push(lijn(jaar1921, "#77933C", 3.5, 2));
datasets.push(lijn(jaar1933, "#77933C", 3, 2));
datasets.push(lijn(jaar1976, "#8C78B0", 3, 2));
datasets.push(lijn(jaar1972, "#F79646", 3, 2));
datasets.push(lijn(jaar1993, "#C4D79B", 3, 2));
datasets.push(lijn(jaar1950, "#953735", 3, 2));
datasets.push(lijn(jaar1932, "#953735", 3, 2));
overigeJaren.forEach((d, i) => datasets.push(lijn(d, palet[i % palet.length], 2.8, 3)));

const labelPlugin = {
  id: "jaartallen",
  afterDatasetsDraw(chart) {
    const { ctx, scales: { x, y } } = chart;
    ctx.save();
    ctx.font = "22px 'Liberation Sans', Arial, sans-serif";
    ctx.textAlign = "center";
    ctx.textBaseline = "middle";
    jaartallen.forEach(l => {
      ctx.fillStyle = l.color;
      ctx.fillText(l.text, x.getPixelForValue(l.day), y.getPixelForValue(l.value));
    });
    ctx.restore();
  }
};

const randPlugin = {
  id: "rand",
  beforeDraw(chart) {
    const { ctx } = chart;
    ctx.save();
    ctx.fillStyle = "#FFFFFF";
    ctx.fillRect(0, 0, chart.width, chart.height);
    ctx.fillStyle = "#BFBFBF";
    ctx.fillRect(0, 0, chart.width, 1);
    ctx.fillRect(0, 0, 2, chart.height);
    ctx.restore();
  }
};

new Chart(document.getElementById("afvoerChart").getContext("2d"), {
  type: "line",
  data: { datasets: datasets },
  plugins: [randPlugin, labelPlugin],
  options: {
    responsive: false,
    animation: false,
    events: [],
    layout: { padding: { top: 19, right: 21, left: 0, bottom: 0 } },
    plugins: { legend: { display: false }, tooltip: { enabled: false } },
    scales: {
      x: {
        type: "linear",
        min: 0,
        max: 131,
        afterFit(scale) { scale.height = 47; },
        afterBuildTicks(scale) { scale.ticks = tickLabels.map((_, i) => ({ value: i * 5 })); },
        grid: { drawOnChartArea: false, drawTicks: true, tickLength: 7, color: "#878787" },
        border: { display: true, color: "#878787", width: 1 },
        ticks: {
          autoSkip: false,
          maxRotation: 0,
          padding: 5,
          color: "#000",
          font: { family: "'Liberation Sans', Arial, sans-serif", size: 18 },
          callback: (v) => tickLabels[Math.round(v / 5)]
        }
      },
      y: {
        min: 500,
        max: 2000,
        afterFit(scale) { scale.width = 104; },
        grid: { color: "#878787", lineWidth: 1, drawTicks: true, tickLength: 6 },
        border: { display: true, color: "#878787", width: 1 },
        ticks: {
          stepSize: 100,
          padding: 10,
          color: "#000",
          font: { family: "'Liberation Sans', Arial, sans-serif", size: 18 },
          callback: (v) => String(v)
        },
        title: {
          display: true,
          text: "Afvoer Bovenrijn bij lobith in m3/s",
          color: "#000",
          font: { family: "'Liberation Sans', Arial, sans-serif", size: 15, weight: "bold" },
          padding: { top: 24, bottom: 0 }
        }
      }
    }
  }
});
</script>
</body>
</html>
